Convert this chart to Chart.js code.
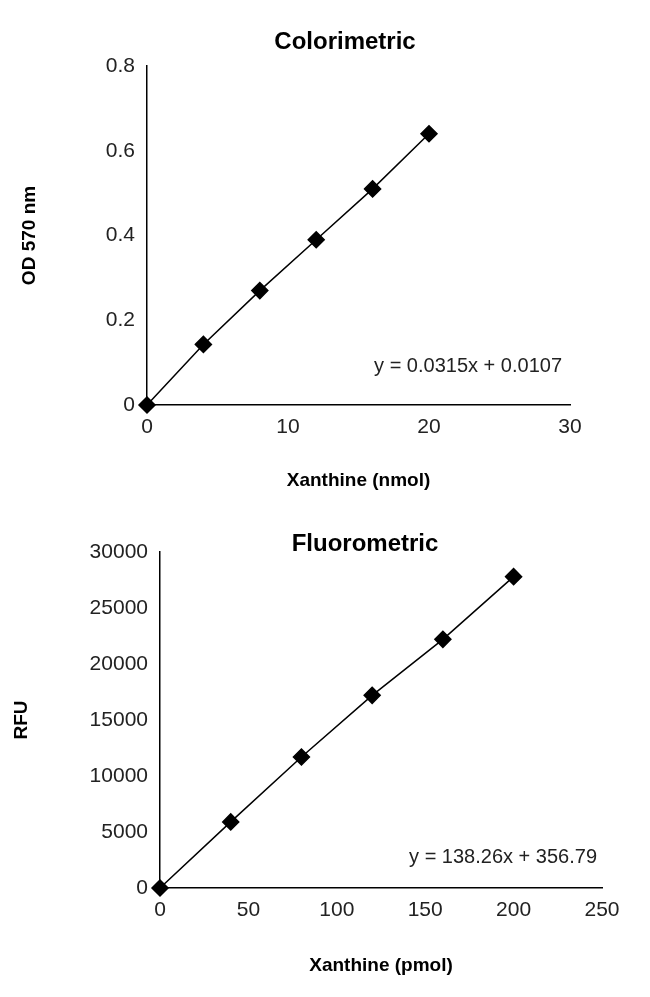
<!DOCTYPE html>
<html><head>
<script src="https://cdn.jsdelivr.net/npm/chart.js@4"></script>
<style>
body{margin:0;background:#fff;}
.box{position:absolute;left:0;width:650px;}
</style>
</head><body>
<div class="box" style="top:0;height:500px"><canvas id="c1"></canvas></div>
<div class="box" style="top:500px;height:497px"><canvas id="c2"></canvas></div>
<script>
// colorimetric standard curve
const colorX = [0, 4, 8, 12, 16, 20];
const colorY = [0, 0.143, 0.27, 0.39, 0.51, 0.64];
// fluorometric standard curve
const fluoroX = [0, 40, 80, 120, 160, 200];
const fluoroY = [0, 5900, 11700, 17200, 22200, 27800];

const FONT = 'Liberation Sans, Arial, sans-serif';

const labelsPlugin = {
    id: 'labels',
    afterDraw(chart, args, opts) {
        const ctx = chart.ctx;
        ctx.save();
        ctx.fillStyle = '#000';
        ctx.font = 'bold 24px ' + FONT;
        ctx.textAlign = 'center';
        ctx.textBaseline = 'middle';
        ctx.fillText(opts.title, opts.titleX, opts.titleY);
        ctx.font = '20px ' + FONT;
        ctx.fillStyle = '#222';
        ctx.textAlign = 'right';
        ctx.fillText(opts.eq, opts.eqX, opts.eqY);
        ctx.restore();
    }
};

function makeChart(id, xs, ys, cfg) {
    return new Chart(document.getElementById(id), {
        type: 'scatter',
        data: {
            datasets: [{
                data: xs.map((x, i) => ({x: x, y: ys[i]})),
                showLine: true,
                clip: false,
                borderColor: '#000',
                borderWidth: 1.5,
                backgroundColor: '#000',
                pointStyle: 'rectRot',
                pointRadius: 8,
                pointHoverRadius: 8
            }]
        },
        options: {
            responsive: true,
            maintainAspectRatio: false,
            animation: false,
            layout: {padding: {top: cfg.top, right: cfg.right, left: 0, bottom: cfg.bottom}},
            plugins: {
                legend: {display: false},
                tooltip: {enabled: false},
                labels: cfg.labels
            },
            scales: {
                x: {
                    min: 0, max: cfg.xMax,
                    ticks: {stepSize: cfg.xStep, color: '#222', font: {size: 21, family: FONT}, padding: 4,
                        callback: v => String(v)},
                    grid: {display: false, drawTicks: true, tickLength: 6, tickColor: '#000'},
                    border: {color: '#000', width: 1.5},
                    title: {display: true, text: cfg.xTitle, color: '#000', font: {size: 19, weight: 'bold', family: FONT}, padding: {top: 8}},
                    afterFit: s => { s.height = cfg.xH; }
                },
                y: {
                    min: 0, max: cfg.yMax,
                    ticks: {stepSize: cfg.yStep, color: '#222', font: {size: 21, family: FONT}, padding: 6,
                        callback: v => String(v)},
                    grid: {display: false, drawTicks: true, tickLength: 6, tickColor: '#000'},
                    border: {color: '#000', width: 1.5},
                    title: {display: true, text: cfg.yTitle, color: '#000', font: {size: 19, weight: 'bold', family: FONT}, padding: {top: cfg.yTitlePad, bottom: 6}},
                    afterFit: s => { s.width = cfg.yW; }
                }
            }
        },
        plugins: [labelsPlugin]
    });
}

makeChart('c1', colorX, colorY, {
    top: 66, right: 80, bottom: 4, xH: 91, yW: 147, yTitlePad: 18,
    xMax: 30, xStep: 10, yMax: 0.8, yStep: 0.2,
    xTitle: 'Xanthine (nmol)', yTitle: 'OD 570 nm',
    labels: {title: 'Colorimetric', titleX: 345, titleY: 42, eq: 'y = 0.0315x + 0.0107', eqX: 562, eqY: 366}
});
makeChart('c2', fluoroX, fluoroY, {
    top: 52, right: 48, bottom: 16, xH: 93, yW: 160, yTitlePad: 10,
    xMax: 250, xStep: 50, yMax: 30000, yStep: 5000,
    xTitle: 'Xanthine (pmol)', yTitle: 'RFU',
    labels: {title: 'Fluorometric', titleX: 365, titleY: 44, eq: 'y = 138.26x + 356.79', eqX: 597, eqY: 357}
});
</script>
</body></html>
